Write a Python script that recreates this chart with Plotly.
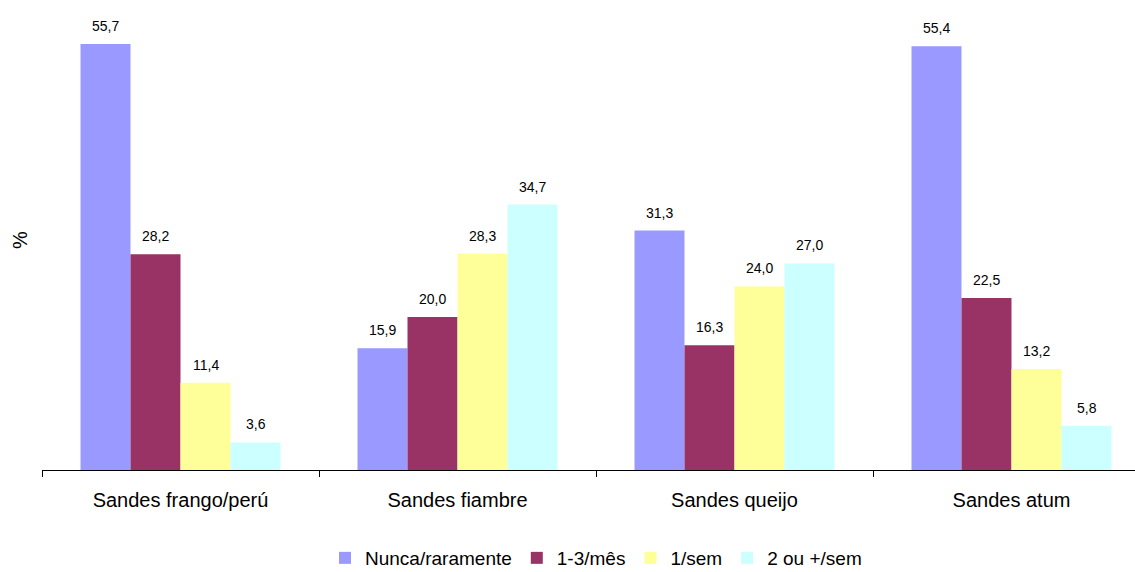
import plotly.graph_objects as go

# Frequência de consumo por tipo de sande (%)
categorias = ["Sandes frango/perú", "Sandes fiambre", "Sandes queijo", "Sandes atum"]
series_nomes = ["Nunca/raramente", "1-3/mês", "1/sem", "2 ou +/sem"]
nunca = [55.7, 15.9, 31.3, 55.4]
um_tres_mes = [28.2, 20.0, 16.3, 22.5]
um_sem = [11.4, 28.3, 24.0, 13.2]
dois_mais_sem = [3.6, 34.7, 27.0, 5.8]
cores = ["#9999FF", "#993366", "#FFFF99", "#CCFFFF"]

valores = [nunca, um_tres_mes, um_sem, dois_mais_sem]

W, H = 1135, 572
ML, MR, MT, MB = 42, 0, 11, 102
GROUP_PX = 277  # pixel width of one category slot
BARGAP = 0.278
plot_w = W - ML - MR
plot_h = H - MT - MB
FONT = "Liberation Sans, Arial"

fig = go.Figure()
for nome, vals, cor in zip(series_nomes, valores, cores):
    fig.add_trace(go.Bar(
        x=categorias, y=vals, name=nome,
        marker=dict(color=cor, line=dict(width=0)),
    ))

# Value labels above each bar, with decimal comma
n = len(valores)
bar_w = (1 - BARGAP) / n
annotations = []
for j, vals in enumerate(valores):
    for i, v in enumerate(vals):
        annotations.append(dict(
            x=i - (1 - BARGAP) / 2 + bar_w * (j + 0.5), y=v,
            xref="x", yref="y",
            text=f"{v:.1f}".replace(".", ","),
            showarrow=False, yanchor="bottom", yshift=8,
            font=dict(family=FONT, size=14, color="#000000"),
        ))

annotations.append(dict(
    x=(20 - ML) / plot_w, y=(470 - 240) / plot_h, xref="paper", yref="paper",
    text="%", textangle=-90, showarrow=False,
    xanchor="center", yanchor="middle",
    font=dict(family=FONT, size=20, color="#000000"),
))

fig.update_layout(
    width=W, height=H,
    margin=dict(l=ML, r=MR, t=MT, b=MB, pad=0, autoexpand=False),
    paper_bgcolor="#FFFFFF", plot_bgcolor="#FFFFFF",
    barmode="group", bargap=BARGAP, bargroupgap=0,
    font=dict(family=FONT, size=20, color="#000000"),
    showlegend=True,
    legend=dict(
        orientation="h", x=(596 - ML) / plot_w, xanchor="center",
        y=(470 - 577) / plot_h, yanchor="bottom",
        font=dict(size=19, color="#000000"),
        traceorder="normal",
    ),
    annotations=annotations,
    xaxis=dict(
        type="category",
        range=[-0.5, -0.5 + plot_w / GROUP_PX],
        tickson="boundaries", ticks="outside", ticklen=6, tickwidth=1,
        tickcolor="#000000", ticklabelstandoff=12,
        showline=True, linecolor="#000000", linewidth=1,
        showgrid=False, zeroline=False,
        tickfont=dict(size=20, color="#000000"),
    ),
    yaxis=dict(
        range=[0, 60], visible=False, showgrid=False, zeroline=False,
    ),
)

fig.write_html("out.html")
